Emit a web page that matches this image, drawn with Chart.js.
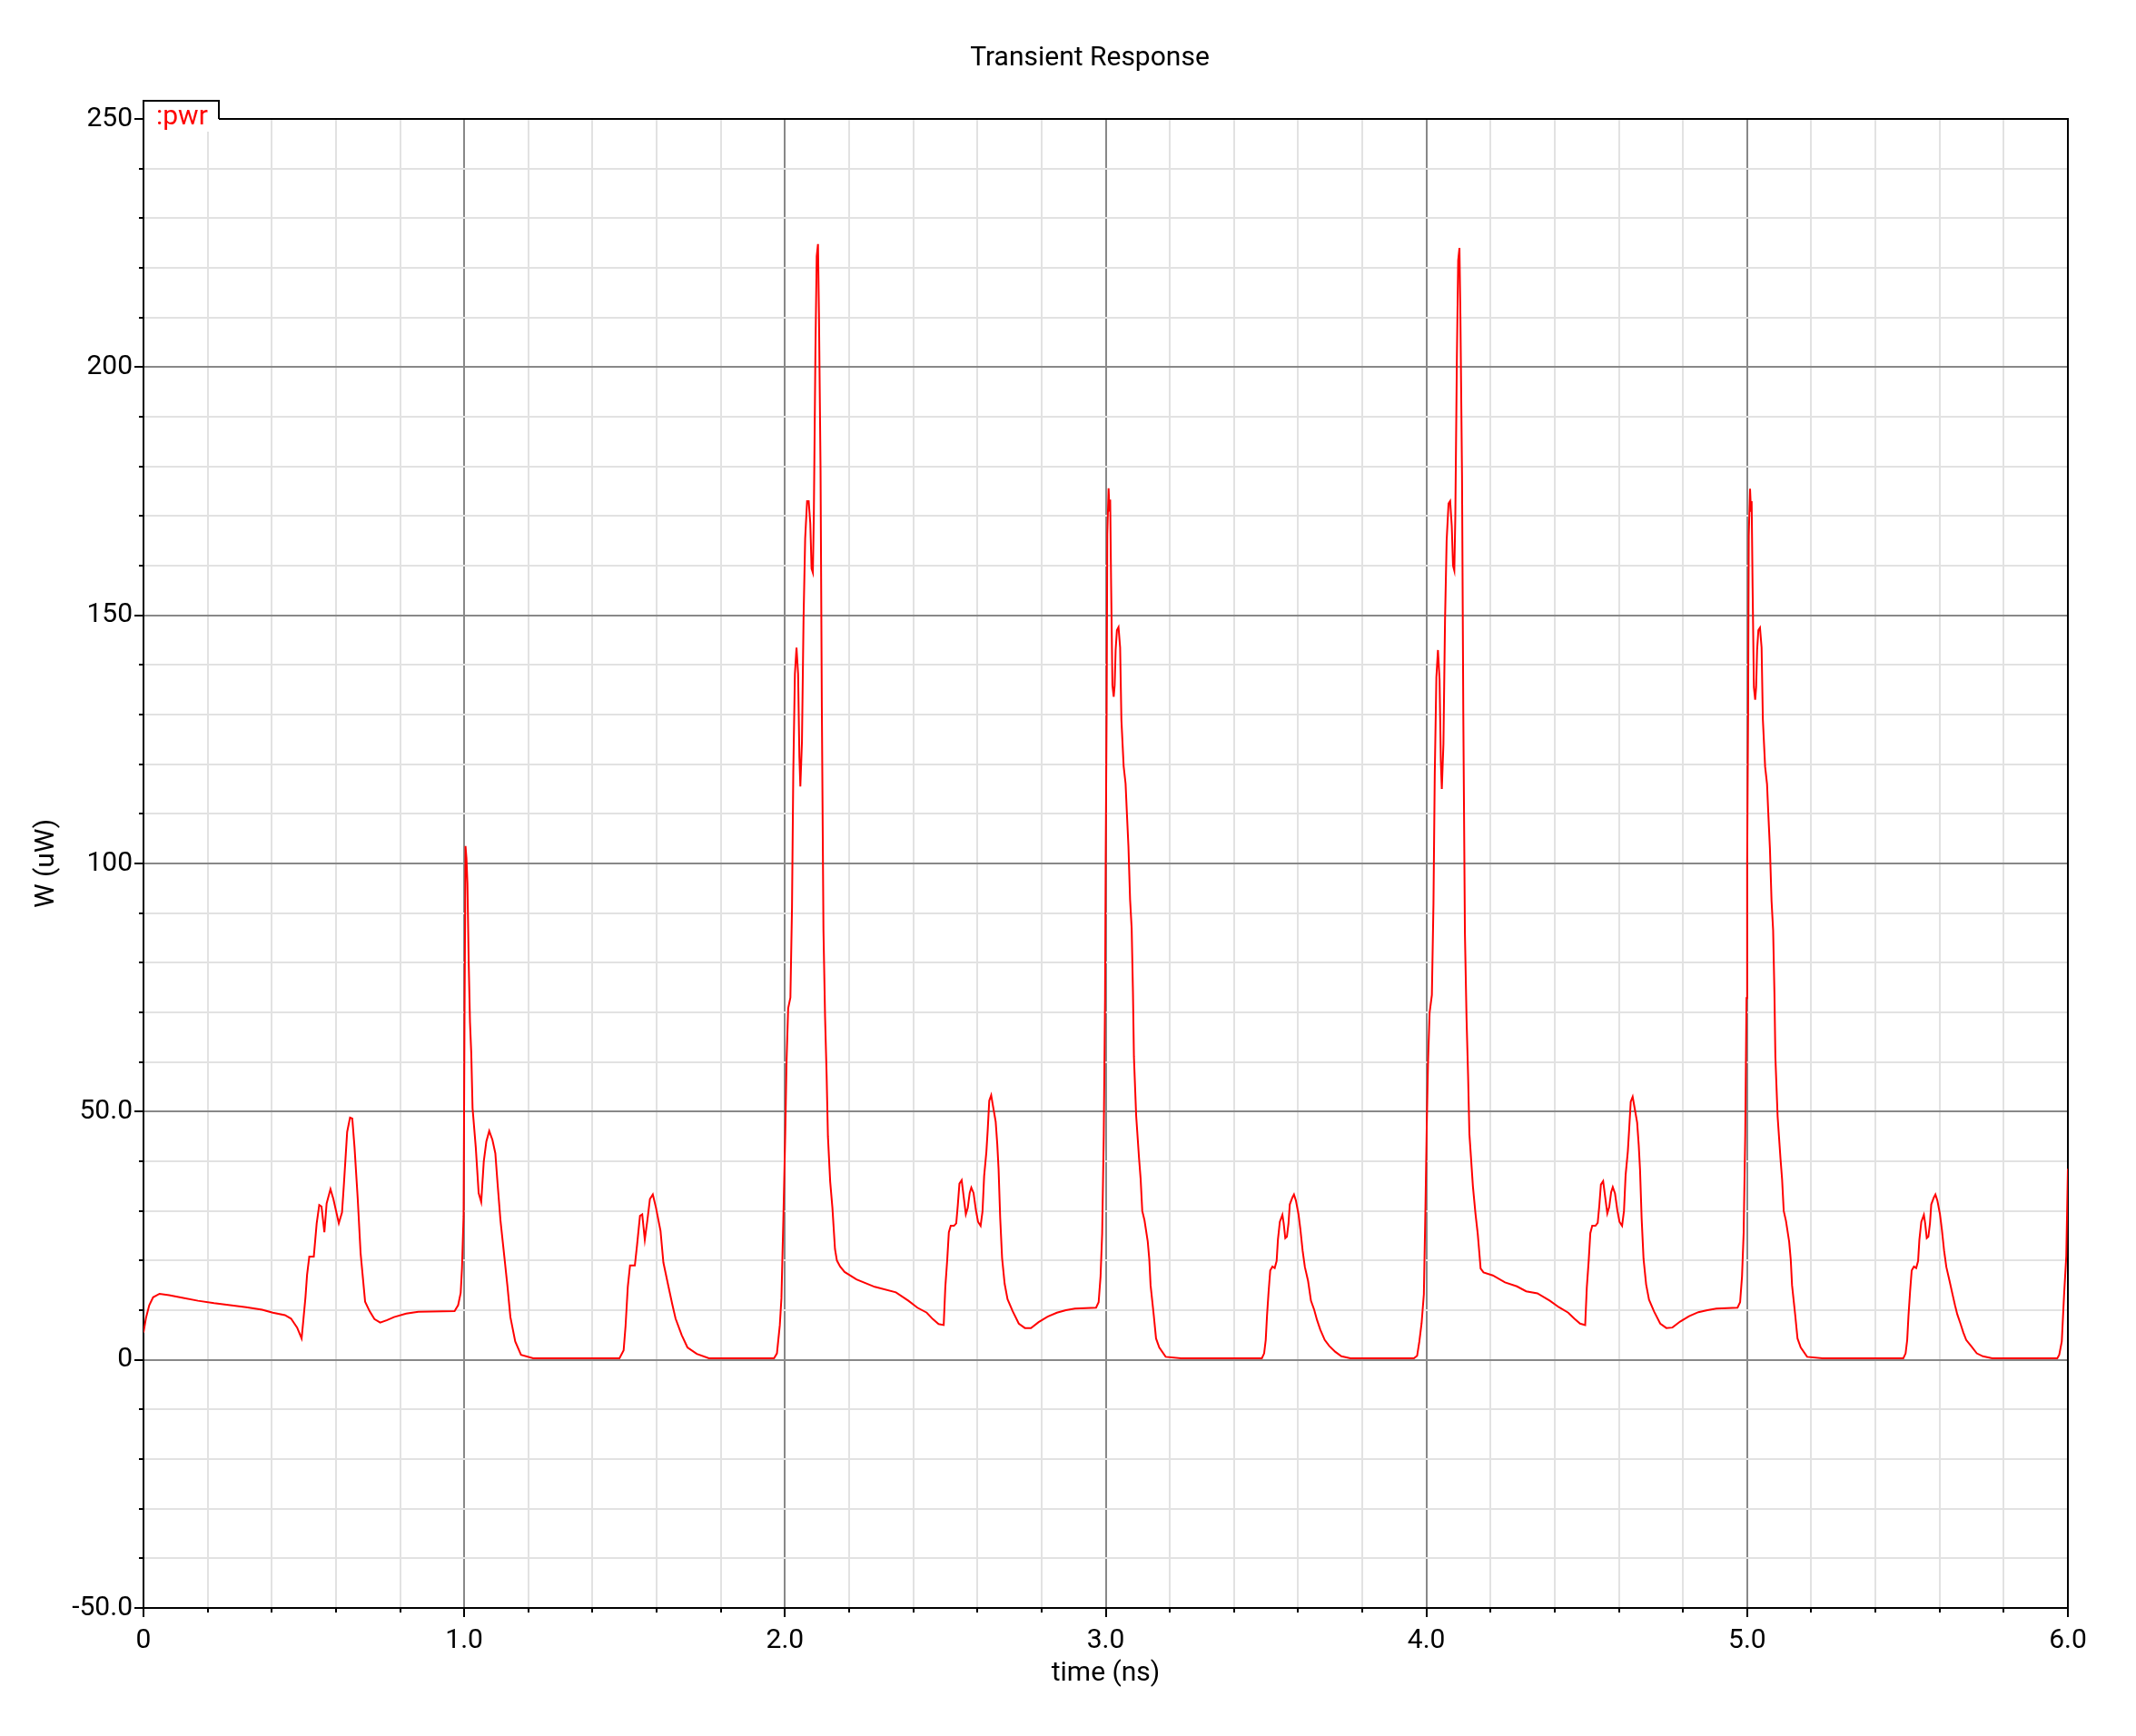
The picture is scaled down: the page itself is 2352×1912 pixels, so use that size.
<!DOCTYPE html>
<html><head><meta charset="utf-8">
<script src="https://cdn.jsdelivr.net/npm/chart.js@4.4.1/dist/chart.umd.min.js"></script>
<style>html,body{margin:0;padding:0;background:#fff;}#wrap{width:2352px;height:1912px;}</style>
</head><body><div id="wrap"><canvas id="c" width="2352" height="1912"></canvas></div>
<script>
const chartTitle = 'Transient Response';
const seriesName = ':pwr';
const xTitle = 'time (ns)';
const yTitle = 'W (uW)';
const xMajorTicks = [0, 1, 2, 3, 4, 5, 6];
const xMajorLabels = ['0', '1.0', '2.0', '3.0', '4.0', '5.0', '6.0'];
const yMajorTicks = [-50, 0, 50, 100, 150, 200, 250];
const yMajorLabels = ['-50.0', '0', '50.0', '100', '150', '200', '250'];

// 0 - 2 ns
const timeA = [0.000,0.008,0.018,0.030,0.050,0.080,0.120,0.170,0.220,0.270,0.320,0.370,0.403,0.441,0.460,0.479,0.493,0.498,0.505,0.510,0.517,0.531,0.540,0.548,0.555,0.564,0.571,0.583,0.592,0.609,0.619,0.625,0.635,0.644,0.651,0.658,0.668,0.677,0.691,0.705,0.720,0.738,0.760,0.781,0.819,0.857,0.970,0.981,0.989,0.993,0.998,1.001,1.004,1.007,1.010,1.014,1.018,1.022,1.026,1.036,1.045,1.053,1.061,1.069,1.078,1.088,1.097,1.104,1.113,1.125,1.135,1.144,1.159,1.177,1.215,1.484,1.497,1.503,1.510,1.517,1.532,1.539,1.548,1.555,1.563,1.571,1.579,1.588,1.598,1.612,1.621,1.635,1.649,1.659,1.678,1.696,1.725,1.763,1.966];
const powerA = [5.5,8.5,11.0,12.6,13.3,13.0,12.5,11.9,11.4,11.0,10.6,10.1,9.5,9.0,8.3,6.5,4.3,7.7,12.6,17.1,20.8,20.8,27.5,31.2,30.9,25.7,31.5,34.4,32.4,27.5,29.7,35.5,45.9,48.8,48.6,42.8,32.4,21.4,11.7,9.8,8.2,7.5,8.0,8.6,9.3,9.7,9.8,11.0,13.5,18.4,29.0,70.0,103.5,101.0,96.0,80.0,68.0,61.7,50.7,42.8,33.6,31.8,40.0,44.0,46.1,44.3,41.6,35.5,28.1,20.8,14.7,8.6,3.7,1.0,0.3,0.3,1.9,6.8,14.7,19.0,19.0,23.2,29.0,29.3,24.2,28.1,32.4,33.3,30.6,26.0,19.6,15.3,11.1,8.3,5.0,2.5,1.2,0.3,0.3];

// 2 - 4 ns
const timeB = [1.975,1.984,1.989,1.995,2.001,2.005,2.010,2.017,2.022,2.026,2.031,2.036,2.041,2.045,2.048,2.053,2.058,2.063,2.069,2.074,2.079,2.083,2.087,2.090,2.095,2.099,2.103,2.106,2.111,2.115,2.120,2.125,2.130,2.134,2.141,2.148,2.156,2.162,2.172,2.186,2.223,2.280,2.346,2.385,2.413,2.442,2.461,2.479,2.495,2.500,2.506,2.511,2.517,2.527,2.534,2.539,2.544,2.551,2.557,2.564,2.570,2.576,2.581,2.588,2.595,2.602,2.610,2.616,2.621,2.628,2.632,2.637,2.643,2.649,2.657,2.662,2.666,2.671,2.677,2.685,2.694,2.710,2.729,2.748,2.767,2.791,2.819,2.848,2.876,2.904,2.970,2.978,2.984,2.989,2.994,2.998,3.000,3.003,3.005,3.009,3.012,3.014,3.017,3.021,3.025,3.028,3.031,3.035,3.040,3.045,3.049,3.056,3.062,3.066,3.071,3.076,3.081,3.085,3.088,3.095,3.104,3.109,3.114,3.121,3.131,3.136,3.140,3.150,3.157,3.167,3.187,3.235,3.487,3.494,3.499,3.503,3.508,3.513,3.520,3.527,3.533,3.537,3.543,3.551,3.555,3.560,3.565,3.570,3.574,3.582,3.587,3.593,3.601,3.607,3.614,3.621,3.631,3.640,3.650,3.659,3.669,3.683,3.697,3.716,3.735,3.763,3.961];
const powerB = [1.3,7.0,12.4,28.3,45.8,60.2,70.8,73.0,91.2,118.5,138.2,143.5,138.2,121.5,115.5,124.5,149.5,165.5,173.0,173.0,168.5,159.4,158.6,170.0,203.3,222.3,224.8,210.9,179.1,131.4,86.7,69.2,57.1,45.0,35.9,30.6,22.3,20.0,18.8,17.7,16.2,14.7,13.6,11.9,10.5,9.5,8.2,7.2,7.0,14.7,20.2,25.7,27.0,27.0,27.5,31.2,35.5,36.2,33.0,29.3,30.6,33.6,34.7,33.6,30.3,27.8,27.0,29.9,37.0,41.9,46.1,52.2,53.3,51.0,48.0,43.4,38.5,28.7,20.5,15.3,12.2,9.8,7.3,6.4,6.4,7.6,8.7,9.5,10.0,10.3,10.5,11.6,16.8,25.4,45.2,72.9,100.9,131.3,166.3,175.6,170.9,173.3,155.8,135.9,133.6,135.9,143.0,147.0,147.6,143.5,128.9,119.6,116.1,110.3,103.3,92.8,86.9,74.1,61.1,49.2,40.6,36.4,30.0,28.1,23.9,20.2,15.0,8.9,4.3,2.5,0.6,0.3,0.3,1.3,4.0,8.9,13.8,18.0,18.8,18.5,19.9,24.2,27.8,29.2,27.5,24.5,24.8,27.5,31.3,32.7,33.3,32.1,29.4,26.3,22.0,18.7,15.9,11.9,10.1,8.0,6.1,4.0,2.8,1.6,0.7,0.3,0.3];

// 4 - 6 ns
const timeC = [3.971,3.978,3.985,3.992,3.997,4.001,4.005,4.010,4.017,4.022,4.026,4.031,4.036,4.041,4.045,4.048,4.053,4.058,4.063,4.069,4.074,4.079,4.083,4.087,4.090,4.095,4.099,4.103,4.106,4.111,4.115,4.120,4.125,4.130,4.134,4.139,4.145,4.153,4.160,4.164,4.169,4.178,4.207,4.245,4.282,4.311,4.346,4.385,4.413,4.442,4.461,4.479,4.495,4.500,4.506,4.511,4.517,4.527,4.534,4.539,4.544,4.551,4.557,4.564,4.570,4.576,4.581,4.588,4.595,4.602,4.610,4.616,4.621,4.628,4.632,4.637,4.643,4.649,4.657,4.662,4.666,4.671,4.677,4.685,4.694,4.710,4.729,4.748,4.767,4.791,4.819,4.848,4.876,4.904,4.970,4.978,4.984,4.989,4.994,4.998,5.000,5.003,5.005,5.009,5.012,5.014,5.017,5.021,5.025,5.028,5.031,5.035,5.040,5.045,5.049,5.056,5.062,5.066,5.071,5.076,5.081,5.085,5.088,5.095,5.104,5.109,5.114,5.121,5.131,5.136,5.140,5.150,5.157,5.167,5.187,5.235,5.487,5.494,5.499,5.503,5.508,5.513,5.520,5.527,5.533,5.537,5.543,5.551,5.555,5.560,5.565,5.570,5.574,5.582,5.587,5.593,5.601,5.607,5.614,5.621,5.631,5.641,5.648,5.655,5.665,5.674,5.683,5.698,5.716,5.735,5.764,5.967,5.973,5.981,5.988,5.995,5.999,6.000];
const powerC = [0.8,3.7,7.4,13.2,30.9,47.0,60.0,70.0,73.5,92.0,118.0,137.5,143.0,137.0,120.5,115.0,124.0,149.0,165.0,172.5,173.0,168.0,160.0,159.0,169.5,202.0,221.5,224.0,210.0,178.0,130.0,86.0,69.0,57.0,45.5,40.7,34.9,29.4,25.4,22.3,18.4,17.6,17.0,15.6,14.8,13.8,13.4,11.9,10.6,9.5,8.3,7.3,7.0,14.5,20.0,25.5,27.0,27.0,27.6,31.0,35.3,36.0,33.0,29.5,30.8,33.8,34.8,33.5,30.2,27.8,27.0,30.0,37.2,42.0,46.3,52.0,53.0,50.8,47.8,43.2,38.3,28.5,20.3,15.2,12.1,9.7,7.3,6.4,6.5,7.7,8.8,9.6,10.0,10.3,10.5,11.6,16.8,25.4,45.2,72.9,100.0,131.0,166.0,175.5,171.0,173.0,155.5,135.5,133.0,135.5,143.0,147.0,147.5,143.5,129.0,119.5,116.0,110.0,103.0,92.5,86.5,74.0,61.0,49.0,40.5,36.3,30.0,28.0,23.8,20.1,15.0,8.9,4.3,2.5,0.6,0.3,0.3,1.3,4.0,8.9,13.8,18.0,18.8,18.5,19.9,24.2,27.8,29.2,27.5,24.5,24.8,27.5,31.3,32.7,33.3,32.1,29.4,26.3,22.0,18.7,15.9,13.0,11.0,9.2,7.3,5.5,4.0,2.8,1.3,0.7,0.3,0.3,1.0,3.7,12.9,20.9,34.9,38.5];

const FONT = 'Roboto, "DejaVu Sans", sans-serif';
const points = [];
[[timeA, powerA], [timeB, powerB], [timeC, powerC]].forEach(([ts, vs]) => {
  ts.forEach((t, i) => points.push({x: t, y: vs[i]}));
});

function majorIndex(list, v) {
  for (let i = 0; i < list.length; i++) if (Math.abs(list[i] - v) < 1e-6) return i;
  return -1;
}

const framePlugin = {
  id: 'frame',
  beforeDatasetsDraw(chart) {
    const {ctx, chartArea: a} = chart;
    ctx.save();
    ctx.strokeStyle = '#000';
    ctx.lineWidth = 2;
    ctx.strokeRect(a.left, a.top, a.right - a.left, a.bottom - a.top);
    ctx.restore();
  },
  afterDraw(chart) {
    const {ctx, chartArea: a, scales} = chart;
    ctx.save();
    // minor ticks
    ctx.strokeStyle = '#000';
    ctx.lineWidth = 2;
    ctx.beginPath();
    scales.x.ticks.forEach(t => {
      if (majorIndex(xMajorTicks, t.value) < 0) {
        const px = Math.round(scales.x.getPixelForValue(t.value));
        ctx.moveTo(px, a.bottom); ctx.lineTo(px, a.bottom + 5);
      }
    });
    scales.y.ticks.forEach(t => {
      if (majorIndex(yMajorTicks, t.value) < 0) {
        const py = Math.round(scales.y.getPixelForValue(t.value));
        ctx.moveTo(a.left, py); ctx.lineTo(a.left - 5, py);
      }
    });
    ctx.stroke();
    // title
    ctx.fillStyle = '#000';
    ctx.font = '30px ' + FONT;
    ctx.textAlign = 'center';
    ctx.textBaseline = 'middle';
    ctx.fillText(chartTitle, 1200, 64);
    // legend tab
    ctx.fillStyle = '#fff';
    ctx.fillRect(a.left + 1, a.top - 19, 82, 33);
    ctx.beginPath();
    ctx.moveTo(a.left, a.top + 1);
    ctx.lineTo(a.left, a.top - 20);
    ctx.lineTo(a.left + 83, a.top - 20);
    ctx.lineTo(a.left + 83, a.top);
    ctx.stroke();
    ctx.fillStyle = '#ff0000';
    ctx.textAlign = 'left';
    ctx.textBaseline = 'alphabetic';
    ctx.fillText(seriesName, a.left + 14, a.top + 6);
    ctx.restore();
  }
};

new Chart(document.getElementById('c'), {
  type: 'line',
  data: {
    datasets: [{
      label: seriesName,
      data: points,
      borderColor: '#ff0000',
      borderWidth: 2,
      pointRadius: 0,
      tension: 0,
      fill: false
    }]
  },
  options: {
    responsive: false,
    animation: false,
    devicePixelRatio: 1,
    layout: {padding: {top: 131, right: 75, bottom: 0, left: 0}},
    plugins: {legend: {display: false}, title: {display: false}, tooltip: {enabled: false}},
    scales: {
      x: {
        type: 'linear', position: 'bottom', min: 0, max: 6,
        afterFit: s => { s.height = 141; },
        ticks: {
          stepSize: 0.2, autoSkip: false, maxRotation: 0, padding: 8, color: '#000',
          font: {family: FONT, size: 30},
          callback: v => { const i = majorIndex(xMajorTicks, v); return i >= 0 ? xMajorLabels[i] : ''; }
        },
        grid: {
          color: c => majorIndex(xMajorTicks, c.tick.value) >= 0 ? '#888888' : '#e2e2e2',
          lineWidth: 2,
          tickLength: 10,
          tickWidth: 2,
          tickColor: c => majorIndex(xMajorTicks, c.tick.value) >= 0 ? '#000' : 'rgba(0,0,0,0)'
        },
        border: {display: true, color: '#000', width: 2},
        title: {display: true, text: xTitle, color: '#000', font: {family: FONT, size: 30}, padding: {top: 0, bottom: 51}}
      },
      y: {
        type: 'linear', position: 'left', min: -50, max: 250,
        afterFit: s => { s.width = 158; },
        ticks: {
          stepSize: 10, autoSkip: false, padding: 2, color: '#000',
          font: {family: FONT, size: 30},
          callback: v => { const i = majorIndex(yMajorTicks, v); return i >= 0 ? yMajorLabels[i] : ''; }
        },
        grid: {
          color: c => majorIndex(yMajorTicks, c.tick.value) >= 0 ? '#888888' : '#e2e2e2',
          lineWidth: 2,
          tickLength: 10,
          tickWidth: 2,
          tickColor: c => majorIndex(yMajorTicks, c.tick.value) >= 0 ? '#000' : 'rgba(0,0,0,0)'
        },
        border: {display: true, color: '#000', width: 2},
        title: {display: true, text: yTitle, color: '#000', font: {family: FONT, size: 30}, padding: {top: 33, bottom: 0}}
      }
    }
  },
  plugins: [framePlugin]
});
</script></body></html>
